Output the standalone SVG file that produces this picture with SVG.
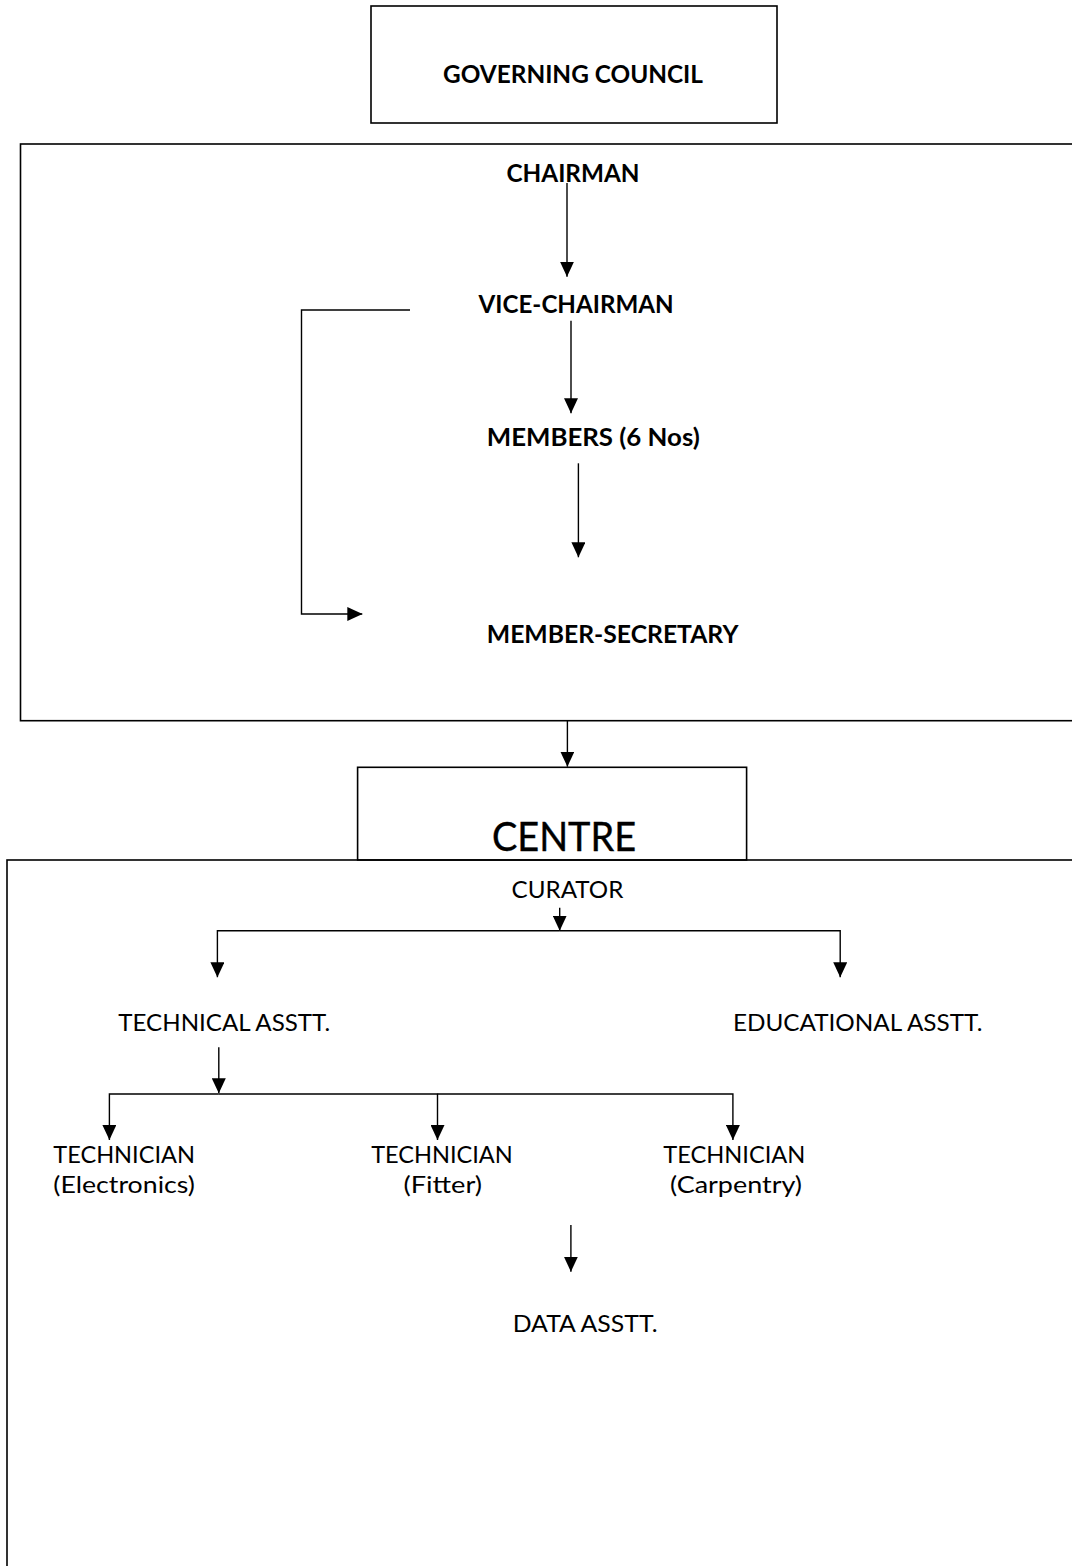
<svg xmlns="http://www.w3.org/2000/svg" width="1072" height="1566" viewBox="0 0 1072 1566">
<style>
.box{fill:none;stroke:#000;stroke-width:1.6}
.con{fill:none;stroke:#000;stroke-width:1.4}
.b{font-family:Lato,"Open Sans","Liberation Sans",sans-serif;font-weight:bold;font-size:24.5px;fill:#000}
.r{font-family:Lato,"Open Sans","Liberation Sans",sans-serif;font-weight:normal;font-size:23.5px;fill:#000}
.big{font-family:Lato,"Open Sans","Liberation Sans",sans-serif;font-weight:normal;font-size:41px;fill:#000;stroke:#000;stroke-width:0.4}
</style>
<defs>
<marker id="ah" viewBox="0 0 15 14" refX="15" refY="7" markerWidth="15" markerHeight="14" markerUnits="userSpaceOnUse" orient="auto">
<path d="M0,0 L15,7 L0,14 z" fill="#000"/>
</marker>
</defs>
<rect width="1072" height="1566" fill="#fff"/>
<g id="governing-council">
<rect class="box" x="371" y="6" width="406" height="117"/>
<text class="b" x="443" y="83" textLength="260" lengthAdjust="spacingAndGlyphs">GOVERNING COUNCIL</text>
</g>
<g id="council-box">
<rect class="box" x="20.5" y="144" width="1065" height="576.7" stroke-width="1.8"/>
</g>
<g id="chairman"><text class="b" x="506.5" y="182" textLength="133" lengthAdjust="spacingAndGlyphs">CHAIRMAN</text></g>
<g id="vice-chairman"><text class="b" x="478.6" y="313" textLength="195" lengthAdjust="spacingAndGlyphs">VICE-CHAIRMAN</text></g>
<g id="members"><text class="b" x="486.8" y="446" textLength="213" lengthAdjust="spacingAndGlyphs">MEMBERS (6 Nos)</text></g>
<g id="member-secretary"><text class="b" x="486.8" y="643.3" textLength="251.6" lengthAdjust="spacingAndGlyphs">MEMBER-SECRETARY</text></g>
<g id="centre">
<rect class="box" x="357.6" y="767.3" width="389" height="92.7"/>
<text class="big" x="492" y="850.7" textLength="144" lengthAdjust="spacingAndGlyphs">CENTRE</text>
</g>
<g id="centre-box">
<rect class="box" x="7" y="860" width="1075" height="720" stroke-width="2"/>
</g>
<g id="curator"><text class="r" x="511.6" y="898.3" textLength="111.7" lengthAdjust="spacingAndGlyphs">CURATOR</text></g>
<g id="technical-asstt"><text class="r" x="118.3" y="1030.7" textLength="212" lengthAdjust="spacingAndGlyphs">TECHNICAL ASSTT.</text></g>
<g id="educational-asstt"><text class="r" x="732.9" y="1030.7" textLength="249.5" lengthAdjust="spacingAndGlyphs">EDUCATIONAL ASSTT.</text></g>
<g id="technician-electronics">
<text class="r" x="53.3" y="1163" textLength="141.6" lengthAdjust="spacingAndGlyphs">TECHNICIAN</text>
<text class="r" x="53.3" y="1193" textLength="141.6" lengthAdjust="spacingAndGlyphs">(Electronics)</text>
</g>
<g id="technician-fitter">
<text class="r" x="371.2" y="1163" textLength="141.6" lengthAdjust="spacingAndGlyphs">TECHNICIAN</text>
<text class="r" x="403.4" y="1193" textLength="78.6" lengthAdjust="spacingAndGlyphs">(Fitter)</text>
</g>
<g id="technician-carpentry">
<text class="r" x="663.2" y="1163" textLength="142.2" lengthAdjust="spacingAndGlyphs">TECHNICIAN</text>
<text class="r" x="670" y="1193" textLength="132" lengthAdjust="spacingAndGlyphs">(Carpentry)</text>
</g>
<g id="data-asstt"><text class="r" x="512.7" y="1331.7" textLength="145" lengthAdjust="spacingAndGlyphs">DATA ASSTT.</text></g>
<g id="connectors">
<path class="con" d="M567,183 V276.7" marker-end="url(#ah)"/>
<path class="con" d="M571,320.7 V413.3" marker-end="url(#ah)"/>
<path class="con" d="M578.4,463.3 V557.3" marker-end="url(#ah)"/>
<path class="con" d="M410,310 H301.5 V614 H362.3" marker-end="url(#ah)"/>
<path class="con" d="M567.4,721 V766.7" marker-end="url(#ah)"/>
<path class="con" d="M559.7,907.7 V930.7" marker-end="url(#ah)"/>
<path class="con" d="M559.7,930.7 H217.4 V977.3" marker-end="url(#ah)"/>
<path class="con" d="M559.7,930.7 H840.2 V977.3" marker-end="url(#ah)"/>
<path class="con" d="M218.8,1047.3 V1093.3" marker-end="url(#ah)"/>
<path class="con" d="M218.8,1094 H109.4 V1140" marker-end="url(#ah)"/>
<path class="con" d="M218.8,1094 H437.5 V1140" marker-end="url(#ah)"/>
<path class="con" d="M437.5,1094 H732.9 V1140" marker-end="url(#ah)"/>
<path class="con" d="M570.9,1225 V1271.7" marker-end="url(#ah)"/>
</g>
</svg>
